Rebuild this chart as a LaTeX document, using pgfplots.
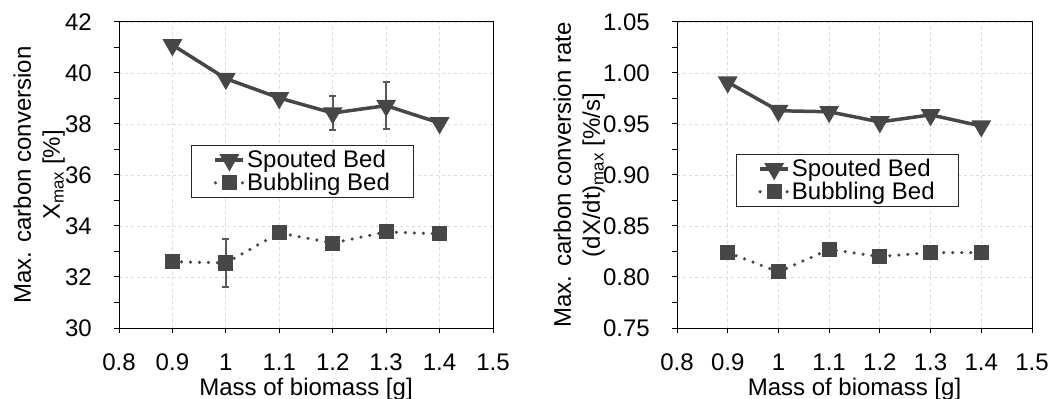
\documentclass[border=0pt]{standalone}
\usepackage{pgfplots}
\pgfplotsset{compat=1.18}
\usepackage{fontspec}
\setmainfont{Liberation Sans}
\definecolor{ser}{HTML}{474747}
\definecolor{gridc}{HTML}{DCDCDC}
\begin{document}
\begin{tikzpicture}[font=\fontsize{24bp}{29bp}\selectfont]
\useasboundingbox (0,0) rectangle (1049bp,399bp);
\pgfplotsset{
 common/.style={
  scale only axis,
  /pgf/number format/assume math mode=true,
  xmin=0.8, xmax=1.5,
  xtick={0.8,0.9,1.0,1.1,1.2,1.3,1.4,1.5},
  xticklabels={0.8,0.9,1,1.1,1.2,1.3,1.4,1.5},
  tick align=outside, xtick pos=bottom, ytick pos=left,
  major tick length=5bp, minor tick length=5bp,
  grid=major, major grid style={gridc, dashed, line width=0.8bp},
  axis line style={line width=1bp},
  every tick/.style={black, line width=1bp},
  minor y tick num=1,
  xticklabel style={anchor=base, inner sep=0pt, yshift=-37bp},
  yticklabel style={anchor=east, inner sep=0pt, xshift=-22bp},
  xlabel={Mass of biomass [g]},
  xlabel style={at={([yshift=-67bp]axis description cs:0.5,0)}, anchor=base, inner sep=0pt},
  ylabel style={align=center, anchor=south, inner sep=0pt},
  legend cell align=left,
  legend style={draw=black!85, line width=1bp, anchor=north west, inner xsep=22bp, inner ysep=3bp, row sep=0bp, font=\fontsize{24bp}{28bp}\selectfont,
    nodes={inner sep=2bp}},
  legend image code/.code={\draw[mark repeat=2, mark phase=2, #1] plot coordinates {(0bp,0bp) (14bp,0bp) (28bp,0bp)};},
 },
 sp/.style={ser, line width=3.5bp, mark=triangle*, mark size=8bp, mark options={rotate=180, solid, fill=ser}},
 bb/.style={ser, line width=3.5bp, line cap=round, dash pattern=on 0bp off 9bp, mark=square*, mark size=5.8bp, mark options={solid, fill=ser}},
 eb/.style={draw=none, forget plot, error bars/.cd, y dir=both, y explicit, error bar style={line width=1.8bp, draw=black!65}, error mark=-, error mark options={rotate=90, line width=1.8bp, draw=black!65, mark size=3.5bp}},
}
\begin{axis}[common, at={(119bp,71bp)}, anchor=south west, width=374bp, height=306bp,
  ymin=30, ymax=42, ytick={30,32,...,42},
  ylabel={Max. carbon conversion\\X\textsubscript{max} [\%]},
  ylabel style={at={([xshift=-54bp]axis description cs:0,0.5)}},
  legend style={at={(0.193,0.598)}}]
\addplot[eb] coordinates {(1.2,38.43) +- (0,0.68) (1.3,38.72) +- (0,0.92) (1.0,32.55) +- (0,0.93)};
\addplot[sp] coordinates {(0.9,41.1) (1.0,39.78) (1.1,39.02) (1.2,38.43) (1.3,38.72) (1.4,38.04)};
\addplot[bb] coordinates {(0.9,32.6) (1.0,32.55) (1.1,33.73) (1.2,33.33) (1.3,33.77) (1.4,33.69)};
\legend{Spouted Bed, Bubbling Bed}
\end{axis}
\begin{axis}[common, at={(677bp,71bp)}, anchor=south west, width=355bp, height=306bp,
  ymin=0.75, ymax=1.05, ytick={0.75,0.80,0.85,0.90,0.95,1.00,1.05},
  yticklabel style={/pgf/number format/.cd, fixed, fixed zerofill, precision=2},
  ylabel={Max. carbon conversion rate\\(dX/dt)\textsubscript{max} [\%/s]},
  ylabel style={at={([xshift=-72bp]axis description cs:0,0.5)}},
  legend style={at={(0.166,0.569)}}]
\addplot[sp] coordinates {(0.9,0.991) (1.0,0.963) (1.1,0.962) (1.2,0.952) (1.3,0.959) (1.4,0.948)};
\addplot[bb] coordinates {(0.9,0.824) (1.0,0.805) (1.1,0.827) (1.2,0.820) (1.3,0.824) (1.4,0.824)};
\legend{Spouted Bed, Bubbling Bed}
\end{axis}
\end{tikzpicture}
\end{document}
